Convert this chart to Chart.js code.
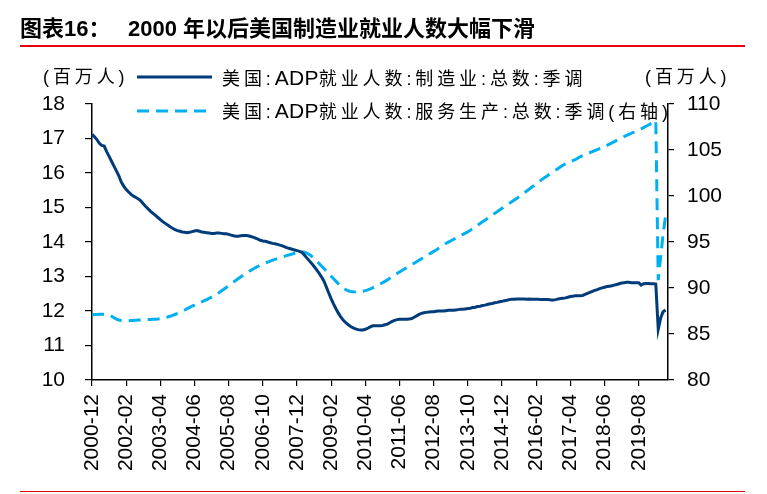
<!DOCTYPE html>
<html>
<head>
<meta charset="utf-8">
<script src="https://cdn.jsdelivr.net/npm/chart.js@4.4.0/dist/chart.umd.min.js"></script>
<style>
  html, body { margin: 0; padding: 0; background: #fff; }
  body { width: 767px; height: 494px; position: relative; overflow: hidden;
         font-family: "Liberation Sans", Arial, "Noto Sans CJK SC", sans-serif; color: #000; }
  #wrap { position: absolute; left: 0; top: 0; width: 767px; height: 494px; }
  .t { position: absolute; white-space: nowrap; }
  .title { font-size: 22px; line-height: 22px; font-weight: bold; top: 18px; }
  .lg { font-size: 18px; line-height: 18px; letter-spacing: 3.9px; }
  .lat { font-size: 21px; letter-spacing: 0.3px; }
  .red { position: absolute; background: #E60012; }
</style>
</head>
<body>
<div id="wrap"><canvas id="c" width="767" height="494"></canvas></div>

<div class="t title" style="left:20px;">图表16：</div>
<div class="t title" style="left:128px;">2000 年以后美国制造业就业人数大幅下滑</div>
<div class="red" style="left:20px; top:45px; width:725px; height:2px;"></div>
<div class="red" style="left:20px; top:491px; width:725px; height:1px;"></div>

<div class="t lg" style="left:43px; top:68px;">(百万人)</div>
<div class="t lg" style="left:645px; top:68px;">(百万人)</div>

<svg style="position:absolute; left:0; top:0;" width="767" height="130">
  <line x1="137" y1="77" x2="212" y2="77" stroke="#003B7A" stroke-width="3"/>
  <line x1="137" y1="111" x2="210" y2="111" stroke="#00B0F0" stroke-width="3" stroke-dasharray="12,7"/>
</svg>
<div class="t lg" style="left:222px; top:69px;">美国:<span class="lat">ADP</span>就业人数:制造业:总数:季调</div>
<div class="t lg" style="left:222px; top:102px;">美国:<span class="lat">ADP</span>就业人数:服务生产:总数:季调(右轴)</div>

<script>
// ---- categories: monthly, 2000-12 .. 2020-08 ----
const startYear = 2000, startMonth = 12, monthCount = 237;
const categories = [];
for (let k = 0; k < monthCount; k++) {
  const m0 = startMonth - 1 + k;
  const y = startYear + Math.floor(m0 / 12);
  const m = (m0 % 12) + 1;
  categories.push(y + '-' + (m < 10 ? '0' + m : '' + m));
}

// ---- tick labels shown on the x axis ----
const tickLabels = ['2000-12','2002-02','2003-04','2004-06','2005-08','2006-10','2007-12',
  '2009-02','2010-04','2011-06','2012-08','2013-10','2014-12','2016-02','2017-04',
  '2018-06','2019-08'];

// ---- 美国:ADP就业人数:制造业:总数:季调 (百万人), 2000-12 .. 2020-07 ----
const manufacturing = [
17.12,17.05,16.97,16.86,16.80,16.78,16.62,16.48,16.34,16.20,
16.06,15.92,15.74,15.62,15.52,15.45,15.38,15.33,15.29,15.25,
15.19,15.11,15.03,14.96,14.89,14.83,14.77,14.71,14.65,14.59,
14.54,14.49,14.44,14.40,14.36,14.33,14.31,14.29,14.28,14.27,
14.28,14.30,14.32,14.33,14.31,14.29,14.28,14.27,14.26,14.25,
14.25,14.26,14.26,14.25,14.24,14.24,14.22,14.20,14.18,14.17,
14.17,14.18,14.19,14.19,14.18,14.16,14.14,14.11,14.08,14.05,
14.03,14.02,14.00,13.98,13.96,13.95,13.93,13.91,13.89,13.86,
13.83,13.81,13.79,13.77,13.75,13.73,13.70,13.62,13.54,13.46,
13.38,13.29,13.20,13.10,12.99,12.87,12.70,12.52,12.35,12.20,
12.06,11.93,11.82,11.73,11.66,11.60,11.55,11.51,11.48,11.46,
11.45,11.45,11.47,11.50,11.54,11.57,11.57,11.57,11.57,11.58,
11.60,11.62,11.66,11.70,11.73,11.75,11.76,11.76,11.76,11.76,
11.77,11.78,11.82,11.86,11.90,11.93,11.95,11.96,11.97,11.98,
11.98,11.99,12.00,12.00,12.00,12.01,12.02,12.02,12.02,12.03,
12.04,12.05,12.05,12.06,12.07,12.08,12.10,12.11,12.13,12.14,
12.16,12.17,12.19,12.21,12.22,12.24,12.25,12.27,12.28,12.30,
12.31,12.33,12.34,12.34,12.35,12.35,12.35,12.35,12.34,12.35,
12.34,12.34,12.34,12.34,12.33,12.33,12.33,12.33,12.32,12.32,
12.33,12.35,12.36,12.37,12.38,12.40,12.42,12.43,12.44,12.44,
12.44,12.45,12.48,12.51,12.54,12.57,12.60,12.62,12.65,12.67,
12.69,12.71,12.72,12.73,12.75,12.77,12.79,12.81,12.82,12.83,
12.83,12.82,12.82,12.82,12.82,12.75,12.79,12.80,12.80,12.79,
12.79,12.78,11.47,11.80,11.98,12.03
];

// ---- 美国:ADP就业人数:服务生产:总数:季调 (百万人, 右轴), 2000-12 .. 2020-07 ----
const services = [
87.10,87.12,87.13,87.14,87.14,87.15,87.12,87.05,86.92,86.76,
86.62,86.52,86.47,86.45,86.45,86.45,86.46,86.47,86.49,86.51,
86.53,86.55,86.56,86.57,86.58,86.59,86.60,86.62,86.66,86.71,
86.78,86.85,86.93,87.02,87.12,87.23,87.35,87.48,87.61,87.75,
87.89,88.02,88.14,88.26,88.38,88.50,88.62,88.74,88.87,89.00,
89.13,89.30,89.48,89.67,89.86,90.06,90.25,90.45,90.65,90.85,
91.04,91.22,91.40,91.57,91.74,91.90,92.06,92.22,92.36,92.49,
92.61,92.72,92.82,92.92,93.02,93.12,93.21,93.30,93.38,93.46,
93.54,93.62,93.70,93.78,93.85,93.91,93.95,93.90,93.80,93.65,
93.45,93.22,92.96,92.68,92.40,92.12,91.84,91.56,91.28,91.00,
90.72,90.45,90.20,89.99,89.82,89.70,89.62,89.58,89.56,89.57,
89.60,89.65,89.72,89.80,89.90,90.02,90.15,90.28,90.42,90.57,
90.72,90.88,91.05,91.22,91.40,91.58,91.74,91.90,92.06,92.22,
92.38,92.54,92.70,92.86,93.02,93.18,93.34,93.50,93.66,93.82,
93.98,94.14,94.31,94.48,94.66,94.84,94.99,95.13,95.27,95.41,
95.55,95.69,95.83,95.97,96.12,96.28,96.46,96.64,96.82,97.01,
97.19,97.37,97.55,97.73,97.92,98.11,98.30,98.48,98.66,98.84,
99.02,99.20,99.38,99.56,99.74,99.92,100.12,100.32,100.52,100.72,
100.92,101.12,101.32,101.52,101.72,101.92,102.10,102.28,102.46,102.64,
102.82,103.00,103.18,103.36,103.48,103.60,103.72,103.84,103.96,104.10,
104.26,104.38,104.49,104.60,104.71,104.82,104.93,105.04,105.15,105.26,
105.37,105.50,105.63,105.77,105.91,106.05,106.19,106.33,106.46,106.58,
106.70,106.82,106.94,107.06,107.17,107.30,107.44,107.58,107.72,107.86,
108.02,108.20,90.85,93.40,95.90,97.80
];

const leftTicks = { min: 10, max: 18, step: 1 };
const rightTicks = { min: 80, max: 110, step: 5 };

const FONT = "'Liberation Sans', Arial, sans-serif";

new Chart(document.getElementById('c'), {
  type: 'line',
  data: {
    labels: categories,
    datasets: [
      {
        label: '美国:ADP就业人数:制造业:总数:季调',
        data: manufacturing,
        yAxisID: 'y',
        borderColor: '#003B7A',
        borderWidth: 3,
        pointRadius: 0,
        fill: false,
        tension: 0
      },
      {
        label: '美国:ADP就业人数:服务生产:总数:季调(右轴)',
        data: services,
        yAxisID: 'y1',
        borderColor: '#00B0F0',
        borderWidth: 3,
        borderDash: [12, 7],
        pointRadius: 0,
        fill: false,
        tension: 0
      }
    ]
  },
  options: {
    responsive: false,
    animation: false,
    layout: { padding: { left: 0, right: 0, top: 104, bottom: 0 } },
    plugins: { legend: { display: false }, tooltip: { enabled: false } },
    scales: {
      x: {
        type: 'category',
        position: 'bottom',
        offset: false,
        grid: { drawOnChartArea: false, drawTicks: true, tickLength: 6, color: '#000', lineWidth: 1.2 },
        border: { display: true, color: '#000', width: 1.5 },
        ticks: { autoSkip: false, minRotation: 90, maxRotation: 90, padding: 8,
                 color: '#000', font: { family: FONT, size: 21 } },
        afterBuildTicks: (s) => { s.ticks = s.ticks.filter(t => tickLabels.includes(categories[t.value])); },
        afterFit: (s) => { s.height = 114; }
      },
      y: {
        type: 'linear',
        position: 'left',
        min: leftTicks.min, max: leftTicks.max,
        grid: { drawOnChartArea: false, drawTicks: true, tickLength: 7, color: '#000', lineWidth: 1.2 },
        border: { display: true, color: '#000', width: 1.5 },
        ticks: { stepSize: leftTicks.step, padding: 20, color: '#000', font: { family: FONT, size: 21 } },
        afterFit: (s) => { s.width = 92; }
      },
      y1: {
        type: 'linear',
        position: 'right',
        min: rightTicks.min, max: rightTicks.max,
        grid: { drawOnChartArea: false, drawTicks: true, tickLength: 6, color: '#000', lineWidth: 1.2 },
        border: { display: true, color: '#000', width: 1.5 },
        ticks: { stepSize: rightTicks.step, padding: 13, color: '#000', font: { family: FONT, size: 21 } },
        afterFit: (s) => { s.width = 99; }
      }
    }
  }
});
</script>
</body>
</html>
